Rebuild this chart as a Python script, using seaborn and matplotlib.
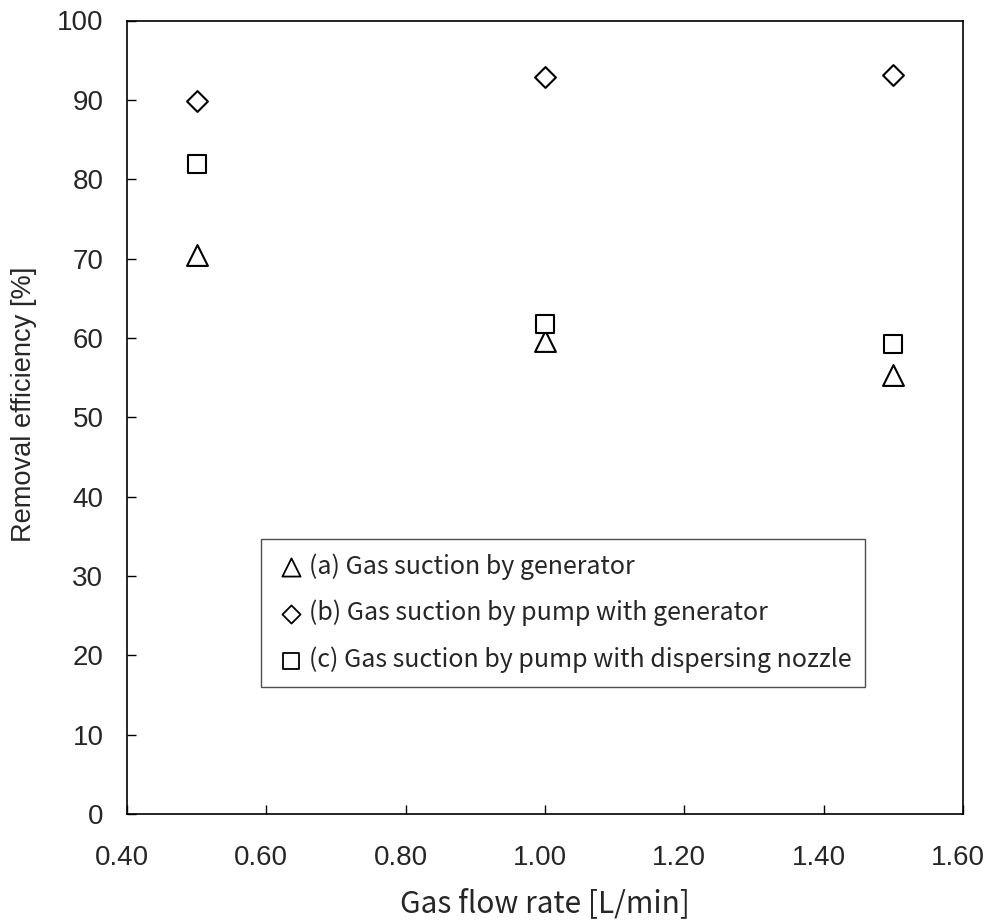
import matplotlib
matplotlib.use("Agg")
import matplotlib.pyplot as plt
import matplotlib.transforms as mtransforms
import seaborn as sns
import pandas as pd

# Gas flow rate [L/min]
flow_rate = [0.5, 1.0, 1.5]

# Removal efficiency [%] for each suction method
eff_a = [70.4, 59.6, 55.3]   # (a) Gas suction by generator
eff_b = [89.9, 92.9, 93.1]   # (b) Gas suction by pump with generator
eff_c = [81.9, 61.8, 59.2]   # (c) Gas suction by pump with dispersing nozzle

labels = [
    "(a) Gas suction by generator",
    "(b) Gas suction by pump with generator",
    "(c) Gas suction by pump with dispersing nozzle",
]

x_ticks = [0.40, 0.60, 0.80, 1.00, 1.20, 1.40, 1.60]
y_ticks = list(range(0, 101, 10))

sns.set_theme(style="white")
plt.rcParams["font.family"] = ["Noto Sans CJK JP", "DejaVu Sans"]

W, H = 991, 923
fig = plt.figure(figsize=(W / 100, H / 100), dpi=100)
ax = fig.add_axes([127 / W, 1 - 814 / H, (963 - 127) / W, (814 - 20.5) / H])

series = [
    (eff_a, "^", 15.0 ** 2),
    (eff_b, "D", 10.6 ** 2),
    (eff_c, "s", 13.5 ** 2),
]
for (vals, mk, size), lab in zip(series, labels):
    df = pd.DataFrame({"flow": flow_rate, "eff": vals})
    sns.scatterplot(data=df, x="flow", y="eff", marker=mk, s=size,
                    facecolor="white", edgecolor="black", linewidth=1.5,
                    label=lab, ax=ax, zorder=3)

ax.set_xlim(0.40, 1.60)
ax.set_ylim(0, 100)
ax.set_xticks(x_ticks)
ax.set_xticklabels([f"{v:.2f}" for v in x_ticks], fontfamily="Liberation Sans", fontsize=20)
ax.set_yticks(y_ticks)
ax.set_yticklabels([str(v) for v in y_ticks], fontfamily="Liberation Sans", fontsize=20)
ax.tick_params(axis="both", direction="in", length=6.5, width=1.0, color="black",
               bottom=True, left=True, top=False, right=False)
ax.tick_params(axis="x", pad=22)
ax.tick_params(axis="y", pad=17)

# nudge the x tick labels slightly to the left
shift = mtransforms.ScaledTranslation(-5 / 100, 0, fig.dpi_scale_trans)
for lbl in ax.get_xticklabels():
    lbl.set_transform(lbl.get_transform() + shift)

for sp in ax.spines.values():
    sp.set_color("black")
    sp.set_linewidth(1.2)

ax.set_xlabel("Gas flow rate [L/min]", fontsize=21.5, labelpad=13)
ax.set_ylabel("Removal efficiency [%]", fontfamily="Liberation Sans", fontsize=19.6,
              labelpad=14, y=0.517)

leg = ax.legend(loc="lower left", bbox_to_anchor=((261 - 127) / 836, (814 - 687) / 793.5),
                borderaxespad=0, fontsize=18, markerscale=0.87, handletextpad=0.06,
                handlelength=1.3, labelspacing=0.81, borderpad=0.55,
                fancybox=False, frameon=True)
leg.get_frame().set_edgecolor("#222222")
leg.get_frame().set_linewidth(1.0)
for h in leg.legend_handles:
    h.set_linewidth(1.3)

fig.savefig("out.png", dpi=100, facecolor="white")
